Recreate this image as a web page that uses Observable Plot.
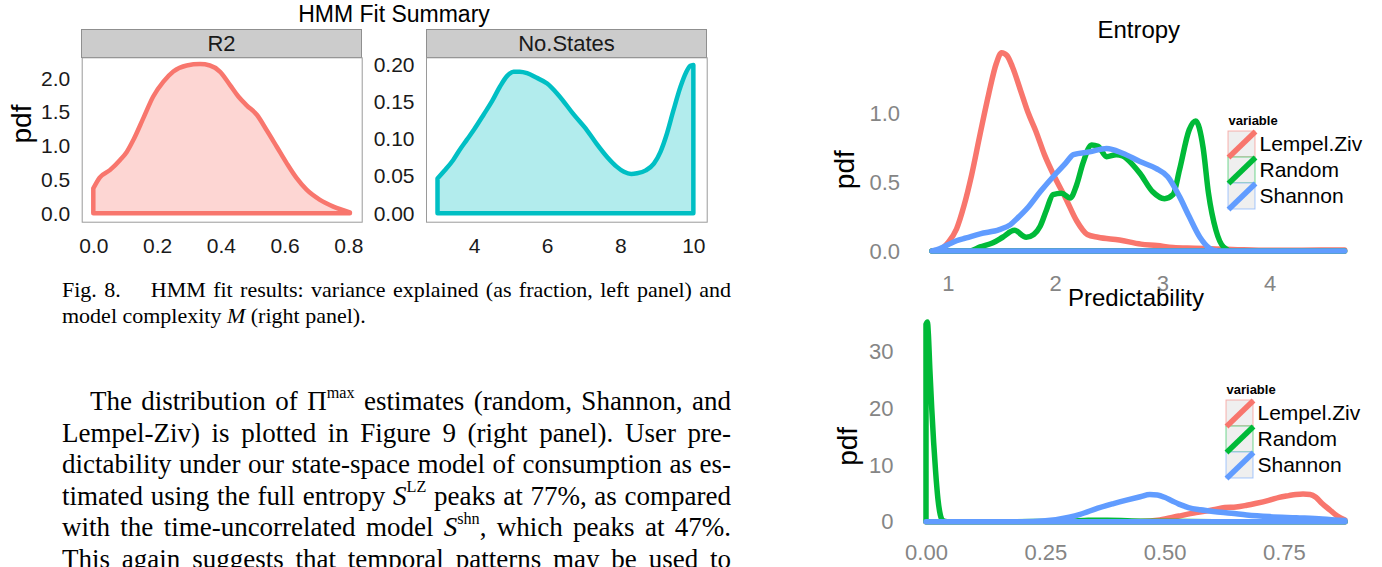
<!DOCTYPE html>
<html>
<head>
<meta charset="utf-8">
<script src="https://cdn.jsdelivr.net/npm/d3@7"></script>
<script src="https://cdn.jsdelivr.net/npm/@observablehq/plot@0.6"></script>
<style>
html, body { margin: 0; padding: 0; background: #fff; }
#page { position: relative; width: 1382px; height: 567px; overflow: hidden; font-family: "Liberation Sans", Arial, sans-serif; }
.abs { position: absolute; }
.strip { position: absolute; background: #cccccc; border: 1px solid #8f8f8f; box-sizing: border-box; text-align: center; font-size: 22px; line-height: 27px; color: #1a1a1a; }
.serif { position: absolute; font-family: "Liberation Serif", "Times New Roman", serif; color: #000; }
.j { text-align: justify; text-align-last: justify; }
sup { font-size: 0.6em; line-height: 0; position: relative; top: -0.15em; vertical-align: super; }
</style>
</head>
<body>
<div id="page">
  <div class="abs" style="left:194px;top:1px;width:400px;text-align:center;font-size:23px;line-height:27px;color:#000;">HMM Fit Summary</div>
  <div class="strip" style="left:81px;top:29px;width:281px;height:29px;">R2</div>
  <div class="strip" style="left:426px;top:29px;width:281px;height:29px;">No.States</div>
  <div id="r2" class="abs" style="left:0px;top:50px;width:372px;"></div>
  <div id="states" class="abs" style="left:365px;top:50px;width:352px;"></div>
  <div id="entropy" class="abs" style="left:820px;top:0px;width:562px;"></div>
  <div id="pred" class="abs" style="left:820px;top:280px;width:562px;"></div>
  <div id="legE" class="abs" style="left:1222px;top:105px;width:160px;"></div>
  <div id="legP" class="abs" style="left:1220px;top:374px;width:162px;"></div>

  <div class="serif" style="left:62px;top:277px;width:669px;font-size:22px;line-height:26px;">
    <div class="j"><span style="margin-right:30px">Fig. 8.</span>HMM fit results: variance explained (as fraction, left panel) and</div>
    <div>model complexity <i>M</i> (right panel).</div>
  </div>
  <div class="serif" style="left:62px;top:386px;width:669px;font-size:27px;line-height:31.6px;">
    <div class="j" style="text-indent:28px">The distribution of Π<sup>max</sup> estimates (random, Shannon, and</div>
    <div class="j">Lempel-Ziv) is plotted in Figure 9 (right panel). User pre-</div>
    <div class="j">dictability under our state-space model of consumption as es-</div>
    <div class="j">timated using the full entropy <i>S</i><sup>LZ</sup> peaks at 77%, as compared</div>
    <div class="j">with the time-uncorrelated model <i>S</i><sup>shn</sup>, which peaks at 47%.</div>
    <div class="j">This again suggests that temporal patterns may be used to</div>
  </div>
</div>
<script>
// ---------- data ----------
const seriesNames = ["Lempel.Ziv", "Random", "Shannon"];
const seriesColors = ["#F8766D", "#00BA38", "#619CFF"];

// HMM fit: R2 density
const r2X = [0, 0.02, 0.052, 0.084, 0.105, 0.126, 0.157, 0.188, 0.22, 0.251, 0.293, 0.335, 0.366, 0.397, 0.429, 0.455, 0.481, 0.513, 0.544, 0.575, 0.607, 0.638, 0.669, 0.711, 0.753, 0.805];
const r2Y = [0.37, 0.53, 0.64, 0.79, 0.91, 1.09, 1.41, 1.73, 1.95, 2.1, 2.19, 2.21, 2.19, 2.1, 1.9, 1.73, 1.6, 1.46, 1.23, 0.99, 0.74, 0.52, 0.35, 0.2, 0.1, 0.015];
const r2XTicks = [0, 0.2, 0.4, 0.6, 0.8];
const r2YTicks = [0, 0.5, 1, 1.5, 2];

// HMM fit: number of states density
const statesX = [3, 3.2, 3.43, 3.6, 3.8, 4.0, 4.26, 4.5, 4.71, 4.9, 5.08, 5.25, 5.45, 5.7, 6.0, 6.3, 6.73, 7.09, 7.35, 7.64, 7.9, 8.1, 8.3, 8.46, 8.7, 8.92, 9.1, 9.28, 9.45, 9.65, 9.8, 9.92, 10];
const statesY = [0.047, 0.058, 0.072, 0.085, 0.099, 0.113, 0.133, 0.152, 0.171, 0.185, 0.191, 0.191, 0.189, 0.183, 0.175, 0.16, 0.133, 0.112, 0.094, 0.076, 0.063, 0.056, 0.053, 0.054, 0.058, 0.067, 0.083, 0.108, 0.138, 0.171, 0.19, 0.199, 0.2];
const statesXTicks = [4, 6, 8, 10];
const statesYTicks = [0, 0.05, 0.1, 0.15, 0.2];

// Entropy densities
const entLZx = [0.85, 0.92, 1.0, 1.08, 1.15, 1.22, 1.3, 1.38, 1.45, 1.5, 1.55, 1.6, 1.68, 1.75, 1.82, 1.9, 2.0, 2.1, 2.2, 2.3, 2.4, 2.6, 2.8, 2.95, 3.1, 3.3, 3.5, 3.7, 4.0, 4.3, 4.7];
const entLZy = [0, 0.01, 0.06, 0.16, 0.33, 0.55, 0.85, 1.14, 1.36, 1.44, 1.42, 1.34, 1.16, 1.0, 0.87, 0.7, 0.53, 0.38, 0.22, 0.12, 0.1, 0.08, 0.05, 0.04, 0.025, 0.02, 0.015, 0.01, 0.005, 0.006, 0.008];
const entRandX = [0.85, 1.2, 1.3, 1.42, 1.51, 1.62, 1.73, 1.8, 1.86, 1.92, 1.98, 2.06, 2.14, 2.2, 2.26, 2.34, 2.4, 2.48, 2.57, 2.63, 2.72, 2.79, 2.91, 3.02, 3.1, 3.16, 3.25, 3.31, 3.38, 3.43, 3.5, 3.57, 3.65, 4.0, 4.7];
const entRandY = [0, 0, 0.03, 0.06, 0.1, 0.15, 0.1, 0.12, 0.18, 0.3, 0.41, 0.42, 0.385, 0.48, 0.64, 0.77, 0.76, 0.685, 0.7, 0.69, 0.63, 0.565, 0.43, 0.38, 0.41, 0.59, 0.88, 0.945, 0.75, 0.42, 0.15, 0.03, 0, 0, 0];
const entShanX = [0.85, 0.92, 1.0, 1.08, 1.17, 1.3, 1.48, 1.58, 1.65, 1.75, 1.86, 2.01, 2.1, 2.17, 2.32, 2.48, 2.63, 2.79, 2.94, 3.05, 3.16, 3.25, 3.35, 3.44, 3.52, 3.7, 4.2, 4.7];
const entShanY = [0, 0.015, 0.045, 0.075, 0.095, 0.125, 0.155, 0.19, 0.24, 0.32, 0.43, 0.565, 0.64, 0.7, 0.72, 0.745, 0.71, 0.65, 0.6, 0.54, 0.395, 0.25, 0.1, 0.02, 0, 0, 0, 0];
const entXTicks = [1, 2, 3, 4];
const entYTicks = [0, 0.5, 1];

// Predictability densities
const predLZx = [0, 0.3, 0.45, 0.49, 0.53, 0.566, 0.602, 0.626, 0.65, 0.672, 0.69, 0.72, 0.74, 0.76, 0.775, 0.79, 0.805, 0.817, 0.83, 0.846, 0.862, 0.878];
const predLZy = [0, 0, 0.05, 0.3, 1.0, 1.6, 2.1, 2.5, 2.6, 2.9, 3.2, 3.8, 4.3, 4.6, 4.8, 4.9, 4.8, 4.3, 3.2, 2.1, 1.0, 0.3];
const predRandX = [0, 0.003, 0.005, 0.008, 0.012, 0.016, 0.02, 0.025, 0.03, 0.035, 0.045, 0.1, 0.3, 0.34, 0.38, 0.45, 0.55, 0.65, 0.878];
const predRandY = [34.8, 35.2, 33, 27, 20, 14, 9, 4, 1.2, 0.2, 0, 0, 0.05, 0.25, 0.25, 0.1, 0.02, 0, 0];
const predShanX = [0, 0.2, 0.25, 0.3, 0.323, 0.36, 0.393, 0.42, 0.449, 0.469, 0.485, 0.5, 0.515, 0.53, 0.55, 0.575, 0.602, 0.64, 0.672, 0.72, 0.776, 0.83, 0.878];
const predShanY = [0, 0, 0.15, 0.8, 1.3, 2.4, 3.2, 3.8, 4.4, 4.8, 4.7, 4.3, 3.7, 3.1, 2.5, 2.1, 1.8, 1.5, 1.2, 0.9, 0.7, 0.5, 0.2];
const predXTicks = [0, 0.25, 0.5, 0.75];
const predYTicks = [0, 10, 20, 30];

// ---------- helpers ----------
const rows = (xs, ys, series) => xs.map((x, i) => ({x, y: ys[i], series}));
const entropyRows = [
  ...rows(entLZx, entLZy, "Lempel.Ziv"),
  ...rows(entRandX, entRandY, "Random"),
  ...rows(entShanX, entShanY, "Shannon")
];
const predRows = [
  ...rows(predLZx, predLZy, "Lempel.Ziv"),
  ...rows(predRandX, predRandY, "Random"),
  ...rows(predShanX, predShanY, "Shannon")
];
const sans = "Liberation Sans, Arial, sans-serif";
const zero = () => 0;

// ---------- left: HMM fit ----------
function facetPlot({data, fill, xDomain, yDomain, xTicks, yTicks, xFmt, yFmt, width, marginLeft, marginRight, pdf}) {
  const marks = [
    Plot.frame({stroke: "#9a9a9a", strokeWidth: 1}),
    Plot.areaY(data, {x: "x", y1: zero, y2: "y", fill, fillOpacity: 0.3, stroke: fill, strokeWidth: 4.5, strokeLinejoin: "round", curve: "monotone-x"})
  ];
  if (pdf) marks.push(Plot.text(["pdf"], {frameAnchor: "left", rotate: -90, textAnchor: "middle", lineAnchor: "middle", dx: -60, dy: -16, fontSize: 28, fill: "#000"}));
  return Plot.plot({
    width, height: 215,
    marginLeft, marginRight, marginTop: 7.3, marginBottom: 43.3,
    x: {domain: xDomain, ticks: xTicks, tickFormat: xFmt, tickSize: 0, tickPadding: 16, label: null},
    y: {domain: yDomain, ticks: yTicks, tickFormat: yFmt, tickSize: 0, tickPadding: 12, label: null},
    style: {background: "transparent", fontFamily: sans, fontSize: "21px", color: "#1a1a1a", overflow: "visible"},
    marks
  });
}
document.getElementById("r2").append(facetPlot({
  data: rows(r2X, r2Y, "R2"), fill: "#F8766D",
  xDomain: [-0.0364, 0.842], yDomain: [-0.124, 2.311],
  xTicks: r2XTicks, yTicks: r2YTicks, xFmt: d3.format(".1f"), yFmt: d3.format(".1f"),
  width: 372, marginLeft: 81.7, marginRight: 10.3, pdf: true
}));
document.getElementById("states").append(facetPlot({
  data: rows(statesX, statesY, "No.States"), fill: "#00BFC4",
  xDomain: [2.685, 10.365], yDomain: [-0.0113, 0.2104],
  xTicks: statesXTicks, yTicks: statesYTicks, xFmt: d3.format("d"), yFmt: d3.format(".2f"),
  width: 352, marginLeft: 61, marginRight: 10.3, pdf: false
}));

// ---------- right: density curves ----------
function densityPlot({data, title, titleDy, xDomain, yDomain, xTicks, yTicks, xFmt, yFmt, height, marginLeft, marginRight, marginTop, marginBottom, xPad, pdfDx, pdfDy}) {
  return Plot.plot({
    width: 562, height,
    marginLeft, marginRight, marginTop, marginBottom,
    x: {domain: xDomain, ticks: xTicks, tickFormat: xFmt, tickSize: 0, tickPadding: xPad, label: null},
    y: {domain: yDomain, ticks: yTicks, tickFormat: yFmt, tickSize: 0, tickPadding: 12, label: null},
    color: {domain: seriesNames, range: seriesColors},
    style: {background: "transparent", fontFamily: sans, fontSize: "22px", color: "#858585", overflow: "visible"},
    marks: [
      Plot.areaY(data, {x: "x", y1: zero, y2: "y", z: "series", stroke: "series", fill: "none", strokeWidth: 5.5, strokeLinejoin: "round", strokeLinecap: "round", curve: "monotone-x"}),
      Plot.text([title], {frameAnchor: "top", lineAnchor: "middle", dy: titleDy, fontSize: 24, fill: "#000"}),
      Plot.text(["pdf"], {frameAnchor: "left", rotate: -90, textAnchor: "middle", lineAnchor: "middle", dx: pdfDx, dy: pdfDy, fontSize: 28, fill: "#000"})
    ]
  });
}
document.getElementById("entropy").append(densityPlot({
  data: entropyRows, title: "Entropy", titleDy: -11.4,
  xDomain: [0.66, 4.89], yDomain: [-0.0725, 1.5225],
  xTicks: entXTicks, yTicks: entYTicks, xFmt: d3.format("d"), yFmt: d3.format(".1f"),
  height: 300, marginLeft: 91.5, marginRight: 17, marginTop: 41.4, marginBottom: 39,
  xPad: 13.5, pdfDx: -66.5, pdfDy: 18
}));
document.getElementById("pred").append(densityPlot({
  data: predRows, title: "Predictability", titleDy: -14,
  xDomain: [-0.044, 0.922], yDomain: [-1.76, 36.96],
  xTicks: predXTicks, yTicks: predYTicks, xFmt: d3.format(".2f"), yFmt: d3.format("d"),
  height: 287, marginLeft: 85, marginRight: 16, marginTop: 32, marginBottom: 35.3,
  xPad: 12.5, pdfDx: -57.5, pdfDy: 24
}));

// ---------- legends ----------
function legendPlot(width, marginLeft) {
  const keys = seriesNames.map((name, i) => ({name, i}));
  return Plot.plot({
    width, height: 110,
    marginLeft, marginRight: width - marginLeft - 27, marginTop: 26, marginBottom: 6,
    x: {domain: [0, 1], axis: null},
    y: {domain: [seriesNames.length, 0], axis: null},
    color: {domain: seriesNames, range: seriesColors},
    style: {background: "transparent", fontFamily: sans, overflow: "visible"},
    marks: [
      Plot.rect(keys, {x1: zero, x2: () => 1, y1: "i", y2: d => d.i + 1, fill: "#efefef", stroke: "name", strokeOpacity: 0.55, strokeWidth: 1}),
      Plot.link(keys, {x1: zero, x2: () => 1, y1: d => d.i + 1, y2: "i", stroke: "name", strokeWidth: 5.5}),
      Plot.text(keys, {x: () => 1, y: d => d.i + 0.5, text: "name", dx: 4, textAnchor: "start", fontSize: 21, fill: "#000"}),
      Plot.text(["variable"], {frameAnchor: "top-left", lineAnchor: "middle", dy: -11, textAnchor: "start", fontSize: 13, fontWeight: "bold", fill: "#000"})
    ]
  });
}
document.getElementById("legE").append(legendPlot(160, 6));
document.getElementById("legP").append(legendPlot(162, 6));
</script>
</body>
</html>
